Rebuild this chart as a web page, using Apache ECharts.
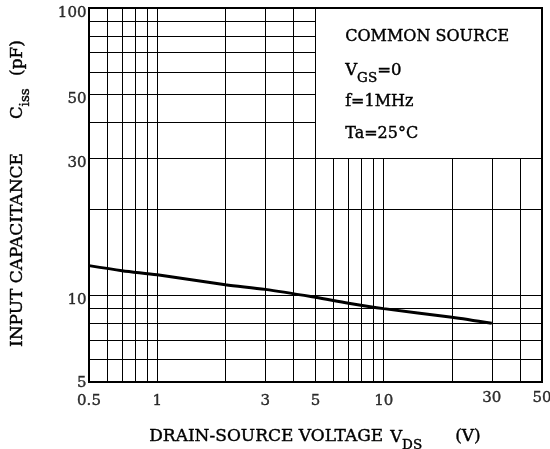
<!DOCTYPE html>
<html>
<head>
<meta charset="utf-8">
<script src="https://cdn.jsdelivr.net/npm/echarts@6/dist/echarts.min.js"></script>
<style>
html, body { margin: 0; padding: 0; background: #fff; }
#chart { width: 550px; height: 449px; }
</style>
</head>
<body>
<div id="chart"></div>
<script>
// Ciss - VDS curve
var vds  = [0.5, 0.7, 1, 2, 3, 5, 7, 10, 20, 30];
var ciss = [12.7, 12.2, 11.8, 10.9, 10.5, 9.85, 9.4, 9.0, 8.4, 8.0];

// grid lines of the log paper
var xGrid = [0.6, 0.7, 0.8, 0.9, 1, 2, 3, 4, 5, 6, 7, 8, 9, 10, 20, 30, 40];
var yGrid = [6, 7, 8, 9, 10, 20, 30, 40, 50, 60, 70, 80, 90];

// tick labels
var xTicks = [0.5, 1, 3, 5, 10, 30, 50];
var yTicks = [5, 10, 30, 50, 100];

var FONT = 'DejaVu Serif';
var xMin = 0.5, xMax = 50, yMin = 5, yMax = 100;
var boxX = 5, boxY = 30;   // condition box covers x>=5, y>=30

// note: no global var called "top" (window.top is read only)
var gridLines = [];
for (var i = 0; i < xGrid.length; i++) {
    var yEnd = xGrid[i] > boxX ? boxY : yMax;
    gridLines.push([{coord: [xGrid[i], yMin]}, {coord: [xGrid[i], yEnd]}]);
}
for (var j = 0; j < yGrid.length; j++) {
    var xEnd = yGrid[j] > boxY ? boxX : xMax;
    gridLines.push([{coord: [xMin, yGrid[j]]}, {coord: [xEnd, yGrid[j]]}]);
}

var labelStyle = {
    show: true,
    color: '#000',
    fontFamily: FONT,
    fontSize: 15,
    textBorderColor: '#000',
    textBorderWidth: 0.4,
    formatter: function (p) { return p.data.name; }
};

// rich text for subscripts (zrender style names inside graphic)
var richSub = {
    a: {fontFamily: FONT, fontSize: 16.5, lineHeight: 18, verticalAlign: 'top', fill: '#000', stroke: '#000', lineWidth: 0.4},
    s: {fontFamily: FONT, fontSize: 13.5, lineHeight: 14, padding: [9, 0, 0, 0], verticalAlign: 'top', fill: '#000', stroke: '#000', lineWidth: 0.4}
};

function txt(s, size) {
    return {text: s, font: size + 'px "' + FONT + '"', fill: '#000', stroke: '#000', lineWidth: 0.4};
}

var chart = echarts.init(document.getElementById('chart'));
var option = {
    backgroundColor: '#fff',
    animation: false,
    grid: {
        left: 89, top: 8, width: 453, height: 374,
        show: true, borderColor: '#000', borderWidth: 2, backgroundColor: '#fff'
    },
    xAxis: {
        type: 'log', logBase: 10, min: xMin, max: xMax,
        axisLine: {show: false}, axisTick: {show: false},
        axisLabel: {show: false}, splitLine: {show: false}
    },
    yAxis: {
        type: 'log', logBase: 10, min: yMin, max: yMax,
        axisLine: {show: false}, axisTick: {show: false},
        axisLabel: {show: false}, splitLine: {show: false}
    },
    graphic: [
        // test conditions box
        {type: 'text', left: 345, top: 29, style: txt('COMMON SOURCE', 16)},
        {type: 'text', left: 345, top: 62, style: {text: '{a|V}{s|GS}{a|=0}', rich: richSub}},
        {type: 'text', left: 345, top: 94, style: txt('f=1MHz', 16)},
        {type: 'text', left: 345, top: 126, style: txt('Ta=25°C', 16)},
        // x axis title
        {type: 'text', left: 149, top: 428, style: txt('DRAIN-SOURCE VOLTAGE', 17)},
        {type: 'text', left: 390, top: 429, style: {text: '{a|V}{s|DS}', rich: richSub}},
        {type: 'text', left: 455, top: 428, style: txt('(V)', 17)},
        // y axis title, reads bottom to top
        {type: 'text', x: 9, y: 347, rotation: Math.PI / 2, style: txt('INPUT CAPACITANCE', 17)},
        {type: 'text', x: 9, y: 119, rotation: Math.PI / 2, style: {text: '{a|C}{s|iss}', rich: richSub}},
        {type: 'text', x: 9, y: 76, rotation: Math.PI / 2, style: txt('(pF)', 17)}
    ],
    series: [
        {
            name: 'Ciss',
            type: 'line',
            data: vds.map(function (v, k) { return [v, ciss[k]]; }),
            symbol: 'none',
            smooth: 0.3,
            lineStyle: {color: '#000', width: 3},
            z: 5,
            markLine: {
                silent: true,
                symbol: 'none',
                label: {show: false},
                lineStyle: {color: '#000', width: 1, type: 'solid'},
                data: gridLines
            }
        },
        {
            name: 'xlabels',
            type: 'scatter',
            silent: true,
            symbolSize: 1,
            itemStyle: {color: 'rgba(0,0,0,0)'},
            data: xTicks.map(function (v) {
                var item = {name: String(v), value: [v, yMin]};
                if (v >= 30) item.label = {offset: [0, -3]};
                return item;
            }),
            label: Object.assign({}, labelStyle, {position: 'bottom', distance: 11})
        },
        {
            name: 'ylabels',
            type: 'scatter',
            silent: true,
            symbolSize: 1,
            itemStyle: {color: 'rgba(0,0,0,0)'},
            data: yTicks.map(function (v) {
                var item = {name: String(v), value: [xMin, v]};
                if (v === yMin) item.label = {offset: [0, 1]};
                return item;
            }),
            label: Object.assign({}, labelStyle, {position: 'left', distance: 2, offset: [0, 5]})
        }
    ]
};
chart.setOption(option);
</script>
</body>
</html>
